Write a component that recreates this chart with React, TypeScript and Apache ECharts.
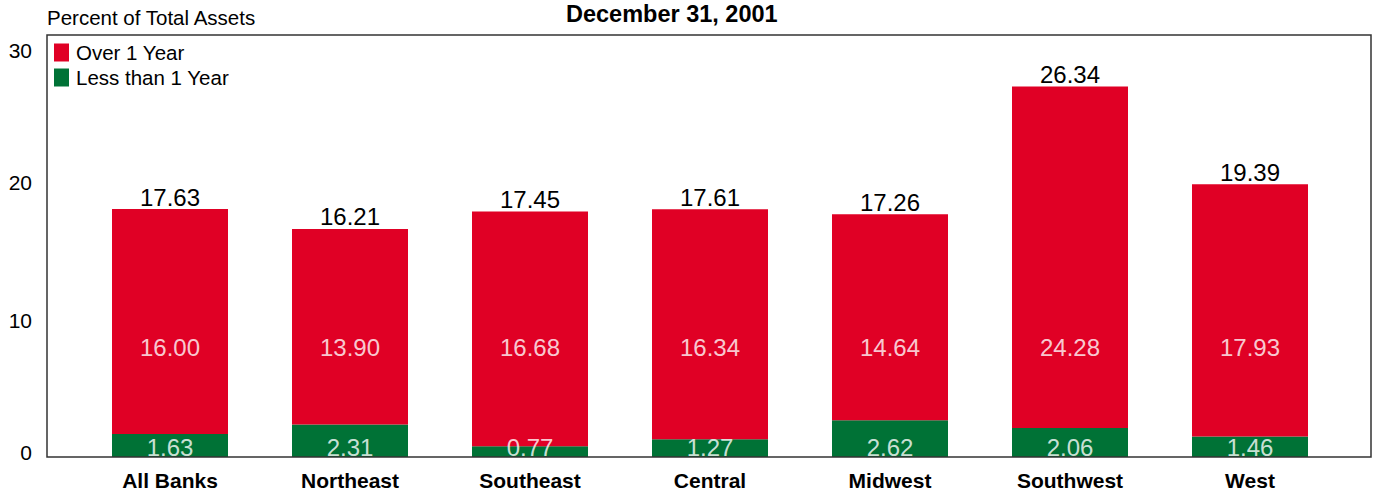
import React, { useEffect, useRef } from "react";
import * as echarts from "echarts";

const categories = ["All Banks", "Northeast", "Southeast", "Central", "Midwest", "Southwest", "West"];
const lessThan1Year = [1.63, 2.31, 0.77, 1.27, 2.62, 2.06, 1.46];
const over1Year = [16.0, 13.9, 16.68, 16.34, 14.64, 24.28, 17.93];
const totals = [17.63, 16.21, 17.45, 17.61, 17.26, 26.34, 19.39];
const yTicks = [0, 10, 20, 30];
const overLabelLevel = 7.75;
const lessLabelLevel = 0.7;

const RED = "#E00025";
const GREEN = "#007236";
const FONT = "'Liberation Sans', Arial, sans-serif";

export default function App() {
  const ref = useRef<HTMLDivElement>(null);
  useEffect(() => {
    if (!ref.current) return;
    const chart = echarts.init(ref.current, undefined, { renderer: "svg" });
    const tickRich: any = {
      t0: { fontSize: 21, color: "#000", fontFamily: FONT, padding: [0, 0, 10, 0] },
      t10: { fontSize: 21, color: "#000", fontFamily: FONT, padding: [8, 0, 0, 0] },
      t20: { fontSize: 21, color: "#000", fontFamily: FONT, padding: [14, 0, 0, 0] },
      t30: { fontSize: 21, color: "#000", fontFamily: FONT, padding: [30, 0, 0, 0] },
    };
    chart.setOption({
      animation: false,
      textStyle: { fontFamily: FONT, color: "#000" },
      title: [
        {
          text: "December 31, 2001",
          left: 566,
          top: 2,
          padding: 0,
          textStyle: { fontSize: 23.5, fontWeight: "bold", color: "#000", fontFamily: FONT },
        },
        {
          text: "Percent of Total Assets",
          left: 47,
          top: 7,
          padding: 0,
          textStyle: { fontSize: 20.5, fontWeight: "normal", color: "#000", fontFamily: FONT },
        },
      ],
      legend: {
        data: ["Over 1 Year", "Less than 1 Year"],
        orient: "vertical",
        left: 54,
        top: 42,
        padding: 0,
        itemWidth: 15,
        itemHeight: 18,
        itemGap: 4,
        icon: "rect",
        selectedMode: false,
        textStyle: { fontSize: 20.5, color: "#000", fontFamily: FONT, padding: [0, 0, 5, 2] },
      },
      grid: { left: 80, right: 39, top: 35, bottom: 36 },
      xAxis: {
        type: "category",
        data: categories,
        axisLine: { show: false },
        axisTick: { show: false },
        axisLabel: { fontSize: 21, fontWeight: "bold", color: "#000", margin: 13, fontFamily: FONT },
      },
      yAxis: {
        type: "value",
        min: yTicks[0],
        max: yTicks[yTicks.length - 1],
        interval: 10,
        axisLine: { show: false },
        axisTick: { show: false },
        splitLine: { show: false },
        axisLabel: {
          margin: 48,
          formatter: (v: number) => `{t${v}|${v}}`,
          rich: tickRich,
        },
      },
      graphic: [
        {
          type: "rect",
          shape: { x: 47, y: 35, width: 1324, height: 422 },
          style: { fill: "none", stroke: "#333", lineWidth: 1.5 },
          z: 100,
          silent: true,
        },
      ],
      series: [
        {
          name: "Less than 1 Year",
          type: "bar",
          stack: "total",
          data: lessThan1Year,
          barWidth: 116,
          itemStyle: { color: GREEN },
        },
        {
          name: "Over 1 Year",
          type: "bar",
          stack: "total",
          data: over1Year,
          barWidth: 116,
          itemStyle: { color: RED },
          label: {
            show: true,
            position: "top",
            distance: 0,
            fontSize: 24,
            color: "#000",
            fontFamily: FONT,
            formatter: (p: any) => totals[p.dataIndex].toFixed(2),
          },
        },
        {
          name: "overLabels",
          type: "scatter",
          symbolSize: 0,
          silent: true,
          z: 10,
          data: over1Year.map((v, i) => [categories[i], overLabelLevel, v]),
          label: {
            show: true,
            position: "inside",
            fontSize: 24,
            color: "#fff",
            fontFamily: FONT,
            formatter: (p: any) => Number(p.value[2]).toFixed(2),
          },
        },
        {
          name: "lessLabels",
          type: "scatter",
          symbolSize: 0,
          silent: true,
          z: 10,
          data: lessThan1Year.map((v, i) => [categories[i], lessLabelLevel, v]),
          label: {
            show: true,
            position: "inside",
            fontSize: 24,
            color: "#fff",
            fontFamily: FONT,
            formatter: (p: any) => Number(p.value[2]).toFixed(2),
          },
        },
      ],
    });
    return () => chart.dispose();
  }, []);
  return (
    <div
      ref={ref}
      style={{ position: "absolute", left: 0, top: 0, width: 1379, height: 493, background: "#fff" }}
    />
  );
}
